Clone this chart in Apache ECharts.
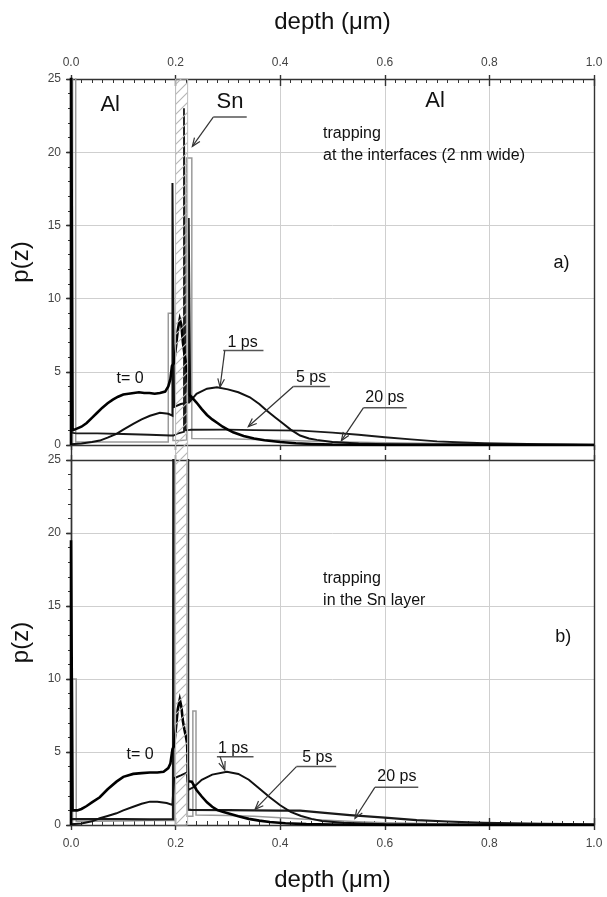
<!DOCTYPE html>
<html>
<head>
<meta charset="utf-8">
<title>p(z)</title>
<script src="https://cdn.jsdelivr.net/npm/echarts/dist/echarts.min.js"></script>
<style>
  html, body { margin: 0; padding: 0; background: #fff; }
  #main { width: 607px; height: 897px; }
</style>
</head>
<body>
<div id="main"></div>
<script>
// depth (um) / p(z) pairs; values > 25 run off the plot
// panel a) trapping at the interfaces
var aT0 = [[0,0],[0,30],[0.003,30],[0.003,1.0],[0.01,1.1],[0.02,1.25],[0.03,1.5],[0.04,1.85],[0.05,2.2],
  [0.06,2.55],[0.07,2.85],[0.08,3.1],[0.09,3.3],[0.10,3.45],[0.11,3.5],[0.12,3.55],[0.13,3.6],[0.14,3.55],
  [0.15,3.55],[0.16,3.5],[0.17,3.55],[0.18,3.65],[0.186,4.0],[0.19,4.5],[0.193,5.4],[0.197,5.6],[0.2,6.5],
  [0.204,7.8],[0.208,8.6],[0.211,8.2],[0.214,7.0],[0.217,6.2],[0.22,5.5],[0.222,5.0],[0.224,3.5],[0.23,3.3],
  [0.24,2.9],[0.25,2.45],[0.26,2.05],[0.27,1.75],[0.28,1.5],[0.29,1.25],[0.30,1.05],[0.31,0.87],[0.33,0.62],
  [0.35,0.45],[0.37,0.33],[0.40,0.2],[0.43,0.12],[0.46,0.07],[0.5,0.03],[0.6,0.01],[1.0,0]];
var a1ps = [[0,0.05],[0.02,0.1],[0.04,0.2],[0.055,0.3],[0.07,0.5],[0.087,0.76],[0.10,1.05],[0.119,1.45],
  [0.135,1.75],[0.151,2.0],[0.17,2.2],[0.186,2.13],[0.194,2.0],[0.194,17.9],[0.197,17.9],[0.197,2.6],
  [0.21,2.8],[0.225,2.9],[0.225,15.5],[0.228,15.5],[0.228,3.0],[0.24,3.5],[0.26,3.85],[0.279,3.95],
  [0.30,3.8],[0.32,3.6],[0.342,3.26],[0.36,2.8],[0.374,2.35],[0.39,1.9],[0.406,1.45],[0.42,1.05],
  [0.438,0.65],[0.455,0.45],[0.47,0.35],[0.5,0.2],[0.55,0.1],[0.6,0.05],[0.7,0.02],[1.0,0]];
var a5ps = [[0,0.85],[0.01,0.8],[0.05,0.8],[0.1,0.75],[0.15,0.7],[0.19,0.65],[0.196,0.65],[0.205,0.8],
  [0.216,0.9],[0.216,23],[0.219,23],[0.219,1.0],[0.23,1.04],[0.3,1.05],[0.35,1.02],[0.4,1.0],[0.44,0.98],
  [0.5,0.85],[0.55,0.7],[0.6,0.53],[0.65,0.38],[0.7,0.25],[0.75,0.17],[0.79,0.12],[0.9,0.05],[1.0,0.02]];
var a20ps = [[0.003,0],[0.003,30],[0.009,30],[0.009,0.2],[0.05,0.2],[0.1,0.2],[0.15,0.2],[0.186,0.2],
  [0.186,9.0],[0.195,9.0],[0.195,0.3],[0.21,0.3],[0.221,0.35],[0.221,19.6],[0.231,19.6],[0.231,0.45],
  [0.3,0.42],[0.35,0.38],[0.4,0.33],[0.45,0.28],[0.5,0.22],[0.6,0.15],[0.7,0.1],[0.8,0.07],[0.9,0.04],[1.0,0.02]];

// panel b) trapping in the Sn layer
var bT0 = [[0,0],[0,19.5],[0.003,19.5],[0.003,1.0],[0.012,1.0],[0.02,1.1],[0.03,1.3],[0.04,1.55],[0.055,1.9],
  [0.07,2.45],[0.087,2.97],[0.1,3.3],[0.119,3.5],[0.135,3.55],[0.151,3.6],[0.165,3.6],[0.177,3.65],
  [0.186,3.9],[0.19,4.2],[0.194,5.2],[0.197,5.4],[0.2,6.4],[0.204,7.9],[0.208,8.6],[0.211,8.1],[0.214,7.1],
  [0.217,6.5],[0.22,6.0],[0.222,5.6],[0.224,3.0],[0.231,2.97],[0.24,2.4],[0.25,1.95],[0.26,1.55],
  [0.27,1.25],[0.28,1.02],[0.29,0.9],[0.30,0.8],[0.32,0.6],[0.34,0.42],[0.36,0.3],[0.38,0.2],[0.41,0.12],
  [0.45,0.06],[0.5,0.03],[0.6,0.01],[1.0,0]];
var b1ps = [[0,0.05],[0.02,0.1],[0.04,0.25],[0.055,0.46],[0.07,0.62],[0.087,0.8],[0.1,1.0],[0.119,1.25],
  [0.135,1.45],[0.151,1.6],[0.165,1.6],[0.183,1.5],[0.194,1.37],[0.197,3.2],[0.21,3.4],[0.222,3.6],
  [0.224,2.4],[0.235,2.6],[0.25,3.1],[0.27,3.45],[0.298,3.65],[0.32,3.5],[0.34,3.1],[0.36,2.5],[0.38,1.9],
  [0.40,1.35],[0.42,0.9],[0.44,0.62],[0.46,0.42],[0.48,0.28],[0.52,0.15],[0.6,0.05],[0.7,0.02],[1.0,0]];
var b5ps = [[0,0.4],[0.05,0.4],[0.1,0.4],[0.15,0.38],[0.195,0.4],[0.196,40],[0.224,40],[0.224,1.05],
  [0.23,1.03],[0.3,1.02],[0.35,1.0],[0.4,0.99],[0.438,0.98],[0.48,0.85],[0.533,0.68],[0.6,0.5],
  [0.661,0.34],[0.72,0.24],[0.788,0.15],[0.9,0.08],[1.0,0.05]];
var b20ps = [[0.003,0],[0.003,10],[0.01,10],[0.01,0.25],[0.05,0.25],[0.1,0.28],[0.15,0.3],[0.198,0.3],
  [0.198,40],[0.222,40],[0.222,0.6],[0.233,0.6],[0.233,7.8],[0.239,7.8],[0.239,0.68],[0.3,0.65],
  [0.35,0.6],[0.4,0.5],[0.45,0.4],[0.5,0.3],[0.55,0.22],[0.6,0.16],[0.7,0.09],[0.8,0.05],[1.0,0.02]];

var snLayer = [0.2, 0.223];
var xTicks = [0, 0.2, 0.4, 0.6, 0.8, 1.0];

var FONT = '"Liberation Sans", Arial, sans-serif';
var chart = echarts.init(document.getElementById('main'), null, { renderer: 'canvas' });

// hatch for the Sn layer
var pat = document.createElement('canvas');
pat.width = 10; pat.height = 10;
var pc = pat.getContext('2d');
pc.strokeStyle = '#b5b5b5';
pc.lineWidth = 1.1;
pc.beginPath();
pc.moveTo(0, 10); pc.lineTo(10, 0);
pc.moveTo(-5, 5); pc.lineTo(5, -5);
pc.moveTo(5, 15); pc.lineTo(15, 5);
pc.stroke();

var axisTxt = { color: '#444', fontSize: 12, fontFamily: FONT };
var gridLine = { show: true, lineStyle: { color: '#cfcfcf', width: 1 } };
var dark = { color: '#333', width: 1.4 };

function xMain(grid, pos, withName) {
  return {
    type: 'value', gridIndex: grid, position: pos, min: 0, max: 1, interval: 0.2,
    name: withName ? 'depth (\u03bcm)' : '', nameLocation: 'middle',
    nameGap: pos === 'top' ? 45 : 43,
    nameTextStyle: { fontSize: 24, color: '#111', fontFamily: FONT },
    axisLine: { show: true, onZero: false, lineStyle: dark },
    axisTick: { show: true, inside: true, length: 7, lineStyle: dark },
    minorTick: { show: true, splitNumber: 10, length: 4, lineStyle: { color: '#333', width: 1 } },
    axisLabel: Object.assign({ show: withName, margin: pos === 'top' ? 10 : 13,
      formatter: function (v) { return v.toFixed(1); } }, axisTxt),
    splitLine: withName ? gridLine : { show: false }
  };
}
function xPlain(grid, pos, tickLen) {
  return {
    type: 'value', gridIndex: grid, position: pos, min: 0, max: 1, interval: 0.2,
    axisLine: { show: tickLen > 0 ? false : true, onZero: false, lineStyle: dark },
    axisTick: { show: true, inside: false, length: Math.abs(tickLen) || 5, lineStyle: dark },
    axisLabel: { show: false }, splitLine: { show: false }
  };
}
function yMain(grid) {
  return {
    type: 'value', gridIndex: grid, min: 0, max: 25, interval: 5,
    name: 'p(z)', nameLocation: 'middle', nameGap: 38,
    nameTextStyle: { fontSize: 24, color: '#111', fontFamily: FONT },
    axisLine: { show: true, onZero: false, lineStyle: dark },
    axisTick: { show: true, length: 5, lineStyle: dark },
    minorTick: { show: true, splitNumber: 5, length: 3, lineStyle: { color: '#333', width: 1 } },
    axisLabel: Object.assign({ margin: 10 }, axisTxt),
    splitLine: gridLine
  };
}
function yInside(grid) {
  return {
    type: 'value', gridIndex: grid, min: 0, max: 25, interval: 5,
    axisLine: { show: false }, axisTick: { show: true, inside: true, length: 4, lineStyle: dark },
    axisLabel: { show: false }, splitLine: { show: false }
  };
}
function curve(data, grid, color, width, z) {
  return {
    type: 'line', xAxisIndex: grid === 0 ? 0 : 3, yAxisIndex: grid === 0 ? 0 : 2,
    data: data, symbol: 'none', showSymbol: false, silent: true, z: z,
    lineStyle: { color: color, width: width, join: 'miter' }
  };
}

var option = {
  animation: false,
  backgroundColor: '#fff',
  grid: [
    { left: 71, right: 13, top: 79, height: 366 },
    { left: 71, right: 13, top: 460, height: 365 },
    { left: 71, right: 13, top: 79, height: 746 }
  ],
  xAxis: [
    xMain(0, 'top', true),
    xPlain(0, 'top', 4),
    xPlain(0, 'bottom', 0),
    xMain(1, 'bottom', true),
    xPlain(1, 'bottom', 5),
    xPlain(1, 'top', 0),
    { type: 'value', gridIndex: 2, min: 0, max: 1, show: false }
  ],
  yAxis: [
    yMain(0), yInside(0), yMain(1), yInside(1),
    { type: 'value', gridIndex: 2, min: 0, max: 1, position: 'left',
      axisLine: { show: true, onZero: false, lineStyle: dark }, axisTick: { show: false },
      axisLabel: { show: false }, splitLine: { show: false } },
    { type: 'value', gridIndex: 2, min: 0, max: 1, position: 'right',
      axisLine: { show: true, onZero: false, lineStyle: dark }, axisTick: { show: false },
      axisLabel: { show: false }, splitLine: { show: false } }
  ],
  series: [
    curve(a20ps, 0, '#9a9a9a', 1.5, 2),
    curve(a5ps, 0, '#1a1a1a', 1.8, 3),
    curve(a1ps, 0, '#111', 2, 4),
    curve(aT0, 0, '#000', 2.6, 5),
    curve(b20ps, 1, '#9a9a9a', 1.5, 2),
    curve(b5ps, 1, '#1a1a1a', 2.2, 3),
    curve(b1ps, 1, '#111', 2, 4),
    curve(bT0, 1, '#000', 2.6, 5),
    {
      type: 'line', xAxisIndex: 6, yAxisIndex: 4, data: [], z: 8, silent: true,
      markArea: {
        silent: true, z: 8,
        itemStyle: { color: { image: pat, repeat: 'repeat' }, borderColor: '#bdbdbd', borderWidth: 1 },
        data: [[{ xAxis: snLayer[0] }, { xAxis: snLayer[1] }]]
      }
    }
  ]
};
chart.setOption(option);

// annotations (text, underline, arrow) placed in data coordinates
function P(g, p) { return chart.convertToPixel({ gridIndex: g }, p); }
var gfx = [];
function label(g, p, text, size, align) {
  var q = P(g, p);
  gfx.push({ type: 'text', x: q[0], y: q[1], z: 20, silent: true,
    style: { text: text, fontSize: size, fontFamily: FONT, fill: '#111',
      align: align || 'center', verticalAlign: 'middle' } });
}
function seg(g, a, b, color, w) {
  var p = P(g, a), q = P(g, b);
  gfx.push({ type: 'line', z: 20, silent: true, shape: { x1: p[0], y1: p[1], x2: q[0], y2: q[1] },
    style: { stroke: color, lineWidth: w } });
}
function arrow(g, a, b) {
  var p = P(g, a), q = P(g, b);
  gfx.push({ type: 'line', z: 20, silent: true, shape: { x1: p[0], y1: p[1], x2: q[0], y2: q[1] },
    style: { stroke: '#333', lineWidth: 1.2 } });
  var ang = Math.atan2(q[1] - p[1], q[0] - p[0]), L = 9, s = 0.38;
  gfx.push({ type: 'polyline', z: 20, silent: true,
    shape: { points: [[q[0] - L * Math.cos(ang - s), q[1] - L * Math.sin(ang - s)], q,
      [q[0] - L * Math.cos(ang + s), q[1] - L * Math.sin(ang + s)]] },
    style: { stroke: '#333', lineWidth: 1.2, fill: null } });
}
function tag(g, text, at, ul, from, to) {
  label(g, at, text, 16);
  seg(g, [ul[0], ul[2]], [ul[1], ul[2]], '#555', 1.5);
  arrow(g, from, to);
}

// panel a
label(0, [0.075, 23.2], 'Al', 22);
label(0, [0.304, 23.4], 'Sn', 22);
seg(0, [0.272, 22.4], [0.336, 22.4], '#555', 1.5);
arrow(0, [0.272, 22.4], [0.232, 20.4]);
label(0, [0.696, 23.5], 'Al', 22);
label(0, [0.482, 21.24], 'trapping', 16, 'left');
label(0, [0.482, 19.76], 'at the interfaces (2 nm wide)', 16, 'left');
label(0, [0.938, 12.4], 'a)', 18);
label(0, [0.113, 4.56], 't= 0', 16);
tag(0, '1 ps', [0.328, 6.98], [0.291, 0.368, 6.45], [0.294, 6.45], [0.285, 3.95]);
tag(0, '5 ps', [0.459, 4.6], [0.425, 0.495, 4.0], [0.425, 4.0], [0.339, 1.26]);
tag(0, '20 ps', [0.6, 3.27], [0.559, 0.642, 2.54], [0.559, 2.54], [0.517, 0.3]);

// panel b
label(1, [0.482, 16.9], 'trapping', 16, 'left');
label(1, [0.482, 15.4], 'in the Sn layer', 16, 'left');
label(1, [0.941, 12.9], 'b)', 18);
label(1, [0.132, 4.8], 't= 0', 16);
tag(1, '1 ps', [0.31, 5.25], [0.279, 0.349, 4.68], [0.285, 4.68], [0.294, 3.77]);
tag(1, '5 ps', [0.471, 4.64], [0.431, 0.507, 4.0], [0.431, 4.0], [0.352, 1.07]);
tag(1, '20 ps', [0.623, 3.3], [0.581, 0.664, 2.58], [0.581, 2.58], [0.543, 0.46]);

chart.setOption({ graphic: gfx });
</script>
</body>
</html>
